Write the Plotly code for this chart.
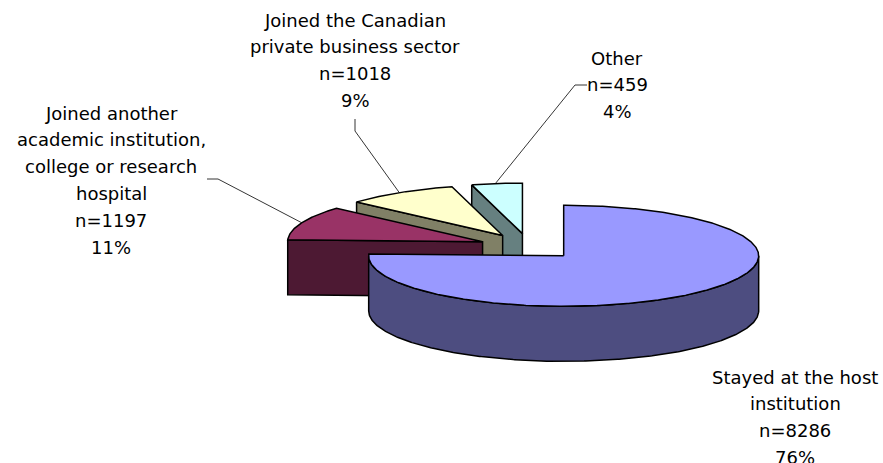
import math
import plotly.graph_objects as go

categories = ["Stayed at the host institution",
              "Joined another academic institution, college or research hospital",
              "Joined the Canadian private business sector",
              "Other"]
counts = [8286, 1197, 1018, 459]
percent_labels = ["76%", "11%", "9%", "4%"]
top_colors = ["#9999FF", "#993366", "#FFFFCC", "#CCFFFF"]
side_colors = ["#4D4D80", "#4D1933", "#808066", "#668080"]
label_lines = [
    ["Stayed at the host", "institution"],
    ["Joined another", "academic institution,", "college or research", "hospital"],
    ["Joined the Canadian", "private business sector"],
    ["Other"],
]
label_anchor = [(795, 377), (111, 113), (355, 20), (617, 58)]
leader_start = [None, [(207, 179), (218, 179)], [(355, 119), (355, 131)], [(587, 85), (575, 85)]]
leader_rim_angle = [None, 292.0, 328.0, 352.0]

# Projection of the tilted pie
CX, CY = 529.0, 246.5
RX, RY = 195.0, 50.5
DEPTH = 55.0
EXPLODE = 50.0
LINE = 1.5
LINE_SPACING = 26.8

total = sum(counts)
sweeps = [360.0 * c / total for c in counts]
starts = [sum(sweeps[:i]) for i in range(len(sweeps))]


def point(center, angle, r=1.0, dz=0.0):
    a = math.radians(angle)
    return (center[0] + RX * r * math.sin(a), center[1] - RY * r * math.cos(a) + dz)


def arc(center, a0, a1, dz=0.0):
    n = max(2, int(abs(a1 - a0) * 2))
    return [point(center, a0 + (a1 - a0) * i / n, 1.0, dz) for i in range(n + 1)]


centers = []
for s, w in zip(starts, sweeps):
    mid = s + w / 2
    a = math.radians(mid)
    centers.append((CX + EXPLODE * math.sin(a), CY - EXPLODE * (RY / RX) * math.cos(a)))

fig = go.Figure()


def poly(pts, color, width=LINE):
    xs = [p[0] for p in pts] + [pts[0][0]]
    ys = [p[1] for p in pts] + [pts[0][1]]
    fig.add_trace(go.Scatter(x=xs, y=ys, mode="lines", fill="toself", fillcolor=color,
                             line=dict(color="#000000", width=width), hoverinfo="skip",
                             showlegend=False))


# back to front: Other, business, another, stayed
for i in [3, 2, 1, 0]:
    c = centers[i]
    s, w = starts[i], sweeps[i]
    e = s + w
    if i == 0:
        # curved front rim
        rim = arc(c, 90, 270) + arc(c, 270, 90, DEPTH)
        poly(rim, side_colors[i])
    else:
        # visible cut face at the start edge
        p0 = point(c, s)
        face = [p0, c, (c[0], c[1] + DEPTH), (p0[0], p0[1] + DEPTH)]
        poly(face, side_colors[i])
    top = [c] + arc(c, s, e)
    poly(top, top_colors[i])

# leader lines
for i in [1, 2, 3]:
    pts = leader_start[i] + [point(centers[i], leader_rim_angle[i])]
    fig.add_trace(go.Scatter(x=[p[0] for p in pts], y=[p[1] for p in pts], mode="lines",
                             line=dict(color="#000000", width=0.8), hoverinfo="skip",
                             showlegend=False))

annotations = []
for i, lines in enumerate(label_lines):
    full = lines + [f"n={counts[i]}", percent_labels[i]]
    ax, ay = label_anchor[i]
    for j, t in enumerate(full):
        annotations.append(dict(x=ax, y=ay + j * LINE_SPACING, text=t, showarrow=False,
                                xanchor="center", yanchor="middle", xref="x", yref="y",
                                font=dict(family="DejaVu Sans", size=18, color="#000000")))

fig.update_layout(
    width=883, height=463, margin=dict(l=0, r=0, t=0, b=0, pad=0),
    paper_bgcolor="#FFFFFF", plot_bgcolor="#FFFFFF", showlegend=False,
    xaxis=dict(range=[0, 883], visible=False, fixedrange=True),
    yaxis=dict(range=[463, 0], visible=False, fixedrange=True),
    annotations=annotations,
)
fig.write_html("out.html", config={"displayModeBar": False},
               post_script="document.body.style.margin='0';document.body.style.overflow='hidden';")
